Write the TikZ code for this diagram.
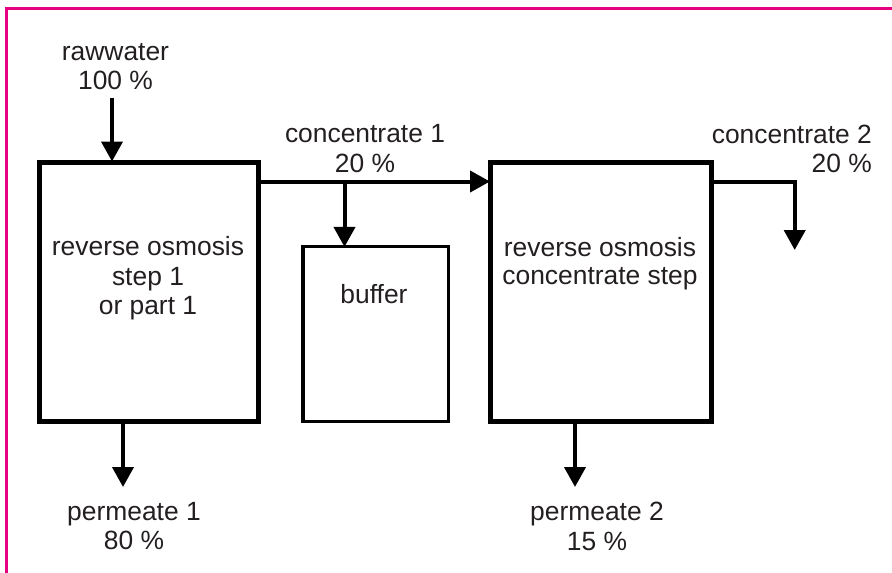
\documentclass[tikz,border=0pt]{standalone}
\usepackage{fontspec}
\setmainfont{Liberation Sans}
\usetikzlibrary{arrows.meta}
\definecolor{frame}{RGB}{230,0,130}
\definecolor{ink}{RGB}{35,31,32}
\tikzset{
  stage/.style={draw=black, line width=5pt, fill=white, inner sep=0pt},
  tank/.style={draw=black, line width=3.2pt, fill=white, inner sep=0pt},
  flow/.style={draw=black, line width=4pt,
    -{Triangle[width=21pt,length=20pt]}, shorten >=-2pt},
  lbl/.style={text=ink, font=\fontsize{26.4}{29.5}\selectfont, align=center,
    inner sep=0pt, anchor=base}
}
\begin{document}
\begin{tikzpicture}[x=1pt, y=-1pt]
  \useasboundingbox (0,0) rectangle (892,573);
  % frame lines along the top and left edges
  \draw[frame, line width=3pt] (892,8) -- (6,8) -- (6,573);

  % process vessels
  \node[stage, minimum width=219.5pt, minimum height=259.5pt] (ro1) at (148.75,291.75) {};
  \node[stage, minimum width=220.5pt, minimum height=259.5pt] (ro2) at (600.75,291.75) {};
  \node[tank, minimum width=145.5pt, minimum height=175pt] (buf) at (375.75,334) {};

  % texts inside the vessels
  \node[lbl] at (148,255) {reverse osmosis};
  \node[lbl] at (148,285) {step 1};
  \node[lbl] at (148,314) {or part 1};
  \node[lbl] at (600,256) {reverse osmosis};
  \node[lbl] at (600,284) {concentrate step};
  \node[lbl] at (374,303) {buffer};

  % stream labels
  \node[lbl] at (115.5,60) {rawwater};
  \node[lbl] at (115.5,89) {100 \%};
  \node[lbl] at (365,142) {concentrate 1};
  \node[lbl] at (365,172) {20 \%};
  \node[lbl, anchor=base east] at (872,143) {concentrate 2};
  \node[lbl, anchor=base east] at (872,172) {20 \%};
  \node[lbl] at (134,520) {permeate 1};
  \node[lbl] at (134,549) {80 \%};
  \node[lbl] at (597,520) {permeate 2};
  \node[lbl] at (597,550) {15 \%};

  % stream connectors
  \coordinate (feed) at (112,97.7);
  \coordinate (c1) at (344.5,181.5);
  \coordinate (c2) at (794.7,182);
  \coordinate (c2end) at (794.7,248);
  \coordinate (p1) at (123,487);
  \coordinate (p2) at (575,487);

  \draw[flow] (feed) -- (feed |- ro1.north);
  \draw[flow] (c1 -| ro1.east) -- (c1 -| ro2.west);
  \draw[flow] (c1) -- (c1 |- buf.north);
  \draw[flow] (c2 -| ro2.east) -- (c2) -- (c2end);
  \draw[flow, shorten >=0pt] (p1 |- ro1.south) -- (p1);
  \draw[flow, shorten >=0pt] (p2 |- ro2.south) -- (p2);
\end{tikzpicture}
\end{document}
